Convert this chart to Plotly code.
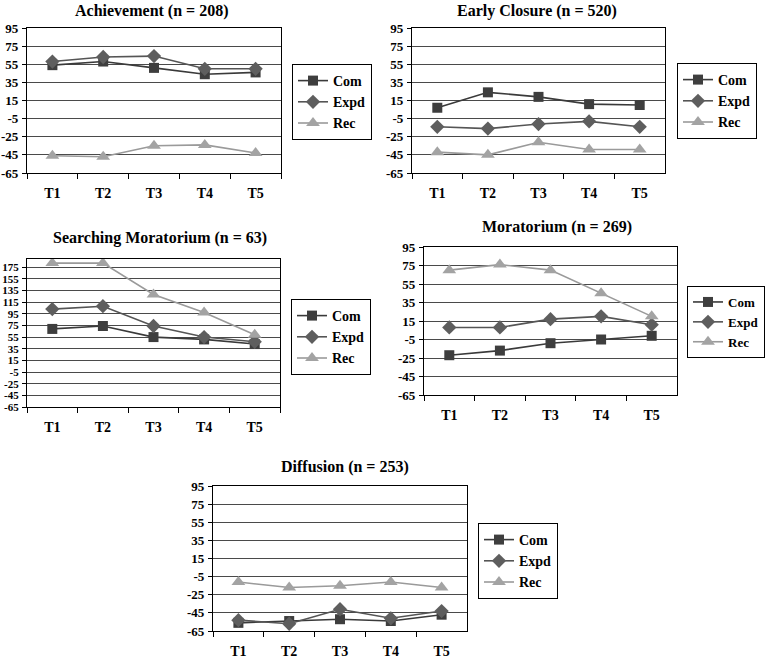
import plotly.graph_objects as go

W, H = 767, 659

categories = ["T1", "T2", "T3", "T4", "T5"]
series_names = ["Com", "Expd", "Rec"]

ach_com = [54, 58, 51, 44, 46]
ach_expd = [58, 63, 64, 50, 50]
ach_rec = [-46, -47, -35, -34, -43]

ec_com = [7, 24, 19, 11, 10]
ec_expd = [-14, -16, -11, -8, -14]
ec_rec = [-42, -45, -31, -39, -39]

sm_com = [69, 74, 55, 51, 43]
sm_expd = [103, 108, 74, 55, 47]
sm_rec = [182, 182, 128, 97, 59]

mor_com = [-22, -17, -9, -5, -1]
mor_expd = [8, 8, 17, 20, 11]
mor_rec = [70, 76, 70, 45, 20]

dif_com = [-56, -54, -52, -54, -47]
dif_expd = [-53, -57, -41, -51, -43]
dif_rec = [-11, -17, -15, -11, -17]

titles = ["Achievement (n = 208)", "Early Closure (n = 520)",
          "Searching Moratorium (n = 63)", "Moratorium (n = 269)",
          "Diffusion (n = 253)"]

ytick_std = [-65, -45, -25, -5, 15, 35, 55, 75, 95]
ytick_sm = [-65, -45, -25, -5, 15, 35, 55, 75, 95, 115, 135, 155, 175]

panels = [
    dict(data=(ach_com, ach_expd, ach_rec), px=(27, 281), py=(28, 173), yr=[-65, 95], yt=ytick_std,
         title_xy=(152, 11), leg=(292, 64, "left"), tfs=13, lfs=14),
    dict(data=(ec_com, ec_expd, ec_rec), px=(412, 665), py=(28, 173), yr=[-65, 95], yt=ytick_std,
         title_xy=(537, 11), leg=(677, 63, "left"), tfs=13, lfs=14),
    dict(data=(sm_com, sm_expd, sm_rec), px=(27, 280), py=(259, 407), yr=[-65, 189], yt=ytick_sm,
         title_xy=(160, 238), leg=(291, 299, "left"), tfs=11, lfs=14),
    dict(data=(mor_com, mor_expd, mor_rec), px=(424, 677), py=(247, 395), yr=[-65, 95], yt=ytick_std,
         title_xy=(557, 227), leg=(765, 286, "right"), tfs=13, lfs=13),
    dict(data=(dif_com, dif_expd, dif_rec), px=(213, 467), py=(486, 631), yr=[-65, 95], yt=ytick_std,
         title_xy=(345, 467), leg=(478, 523, "left"), tfs=13, lfs=14),
]

styles = [
    dict(color="#3e3e3e", line="#3a3a3a", symbol="square", size=10),
    dict(color="#5e5e5e", line="#555555", symbol="diamond", size=11),
    dict(color="#a3a3a3", line="#9a9a9a", symbol="triangle-up", size=12),
]

FONT = "Liberation Serif"
fig = go.Figure()
layout = dict(width=W, height=H, margin=dict(l=0, r=0, t=0, b=0),
              paper_bgcolor="white", plot_bgcolor="white", showlegend=True,
              font=dict(family=FONT, color="black"))
annotations = []

for i, p in enumerate(panels):
    n = "" if i == 0 else str(i + 1)
    xa, ya = "x" + n, "y" + n
    legname = "legend" if i == 0 else "legend" + str(i + 1)
    for j, (vals, st) in enumerate(zip(p["data"], styles)):
        fig.add_trace(go.Scatter(
            x=categories, y=vals, name=series_names[j], mode="lines+markers",
            xaxis=xa, yaxis=ya, legend=legname,
            line=dict(color=st["line"], width=1.6),
            marker=dict(symbol=st["symbol"], size=st["size"], color=st["color"],
                        line=dict(width=0)),
        ))
    x0, x1 = p["px"]
    y0, y1 = p["py"]
    layout["xaxis" + n] = dict(
        domain=[x0 / W, x1 / W], anchor=ya, type="category", automargin=False,
        range=[-0.5, 4.5], tickson="boundaries", ticks="outside", ticklen=5,
        tickcolor="black", showline=True, linecolor="black", linewidth=1.2,
        mirror=True, showgrid=False, ticklabelstandoff=7,
        tickfont=dict(family=FONT, size=14, color="black", weight="bold"),
    )
    layout["yaxis" + n] = dict(
        domain=[1 - y1 / H, 1 - y0 / H], anchor=xa, range=p["yr"], automargin=False,
        tickvals=p["yt"], ticktext=[str(v) for v in p["yt"]],
        ticks="outside", ticklen=4, tickcolor="black",
        showline=True, linecolor="black", linewidth=1.2, mirror=True,
        showgrid=True, gridcolor="#4a4a4a", gridwidth=1.4, zeroline=False,
        ticklabelstandoff=1,
        tickfont=dict(family=FONT, size=p["tfs"], color="black", weight="bold"),
    )
    lx, ly, anc = p["leg"]
    layout[legname] = dict(
        x=lx / W, y=1 - ly / H, xanchor=anc, yanchor="top",
        bordercolor="black", borderwidth=1, bgcolor="white",
        font=dict(family=FONT, size=p["lfs"], color="black", weight="bold"),
        tracegroupgap=0, itemwidth=30,
    )
    tx, ty = p["title_xy"]
    annotations.append(dict(
        x=tx / W, y=1 - ty / H, xref="paper", yref="paper", text=titles[i],
        showarrow=False, xanchor="center", yanchor="middle",
        font=dict(family=FONT, size=16, color="black", weight="bold"),
    ))

layout["annotations"] = annotations
fig.update_layout(**layout)
fig.write_html("out.html", config={"displayModeBar": False},
               post_script="document.body.style.margin='0';document.body.style.overflow='hidden';")
